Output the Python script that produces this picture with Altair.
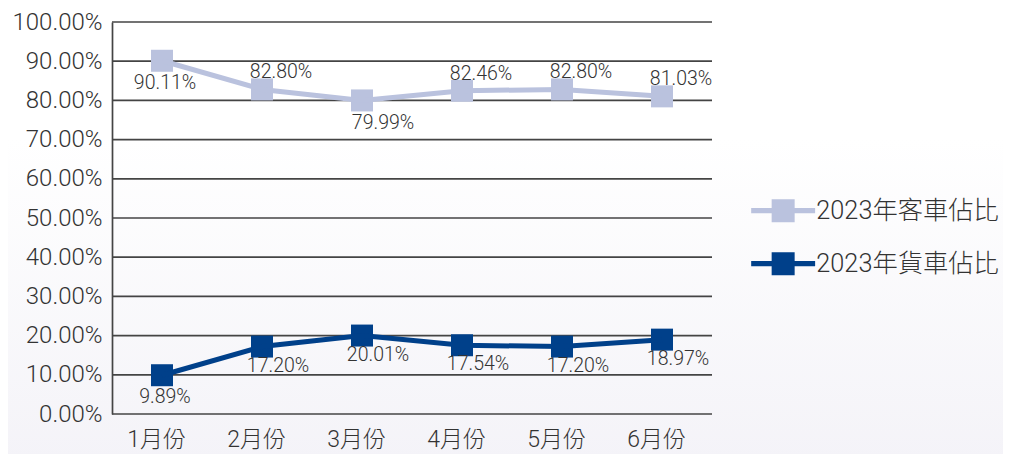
import altair as alt
import pandas as pd

months = ["1月份", "2月份", "3月份", "4月份", "5月份", "6月份"]
passenger = [90.11, 82.80, 79.99, 82.46, 82.80, 81.03]
freight = [9.89, 17.20, 20.01, 17.54, 17.20, 18.97]
series_names = ["2023年客車佔比", "2023年貨車佔比"]
series_colors = ["#BAC2DE", "#00408A"]
y_ticks = [0, 0.1, 0.2, 0.3, 0.4, 0.5, 0.6, 0.7, 0.8, 0.9, 1.0]

rows = []
for m, p, f in zip(months, passenger, freight):
    rows.append({"month": m, "series": series_names[0], "value": p / 100})
    rows.append({"month": m, "series": series_names[1], "value": f / 100})
df = pd.DataFrame(rows)
grid_df = pd.DataFrame({"tick": y_ticks})

FONT = "Roboto, Liberation Sans, Noto Sans CJK TC, sans-serif"
TXT = "#333333"
W = 300

yscale = alt.Scale(domain=[0, 1], nice=False)
y_axis = alt.Axis(values=y_ticks, format=".2%", ticks=False,
                  grid=False,
                  domain=True, domainColor="#444444", domainWidth=1.7,
                  labelFontSize=24, labelColor=TXT, labelFont=FONT,
                  labelFontWeight=W, labelPadding=10, zindex=1)

x_enc = alt.X("month:N", sort=months, title=None,
              scale=alt.Scale(paddingInner=0, paddingOuter=0),
              axis=alt.Axis(labelAngle=0, ticks=False, domain=False, grid=False,
                            labelFontSize=23, labelColor=TXT, labelFont=FONT,
                            labelFontWeight=W, labelPadding=14, labelOffset=-6,
                            zindex=1))
y_enc = alt.Y("value:Q", title=None, scale=yscale, axis=y_axis)
color_enc = alt.Color("series:N",
                      scale=alt.Scale(domain=series_names, range=series_colors),
                      legend=alt.Legend(
                          title=None, orient="none", legendX=658.5, legendY=176,
                          symbolType="M-2.78,-0.22H2.78V0.22H-2.78Z M-1,-1H1V1H-1Z",
                          symbolSize=529, symbolStrokeWidth=0,
                          labelFontSize=25.3, labelColor=TXT, labelFont=FONT,
                          labelFontWeight=W,
                          labelOffset=20.5, rowPadding=27, padding=0,
                          labelLimit=400, zindex=1))

bg = alt.Chart(alt.Data(values=[{}])).mark_rect(
    color=alt.Gradient(gradient="linear",
                       stops=[alt.GradientStop(color="#ffffff", offset=0),
                              alt.GradientStop(color="#ffffff", offset=0.3),
                              alt.GradientStop(color="#F4F3F8", offset=1)],
                       x1=0, x2=0, y1=0, y2=1)
).encode(x=alt.value(-112), x2=alt.value(900), y=alt.value(-22), y2=alt.value(440))

grid = alt.Chart(grid_df).mark_rule(color="#444444", strokeWidth=1.7).encode(
    y=alt.Y("tick:Q", scale=yscale, title=None, axis=y_axis))

base = alt.Chart(df)

points = base.mark_point(shape="square", size=484, filled=True, opacity=1).encode(
    x=x_enc, y=y_enc, color=color_enc)
lines = base.mark_line(strokeWidth=5).encode(x=x_enc, y=y_enc, color=color_enc,
                                            detail="series:N")

def labels(filter_expr, dx, dy):
    return base.transform_filter(filter_expr).mark_text(
        dx=dx, dy=dy, fontSize=19.5, font=FONT, fontWeight=W, color=TXT
    ).encode(x=x_enc, y=y_enc, text=alt.Text("value:Q", format=".2%"))

is_p = f"datum.series == '{series_names[0]}'"
is_f = f"datum.series == '{series_names[1]}'"
first = f"datum.month == '{months[0]}'"
third = f"datum.month == '{months[2]}'"

lab_first = labels(f"{first}", 3, 22)
lab_p_above = labels(f"{is_p} && !({first}) && !({third})", 19, -17)
lab_p_below = labels(f"{is_p} && ({third})", 21, 23)
lab_f_below = labels(f"{is_f} && !({first})", 16, 19)

chart = alt.layer(bg, grid, points, lines, lab_first, lab_p_above, lab_p_below,
                  lab_f_below).properties(
    width=600, height=392,
    autosize=alt.AutoSizeParams(type="none"),
    padding={"left": 104, "top": 14, "right": 291, "bottom": 40},
).configure_view(stroke=None).configure(background="white")

chart.save("out.html", embed_options={"renderer": "svg", "actions": False})
